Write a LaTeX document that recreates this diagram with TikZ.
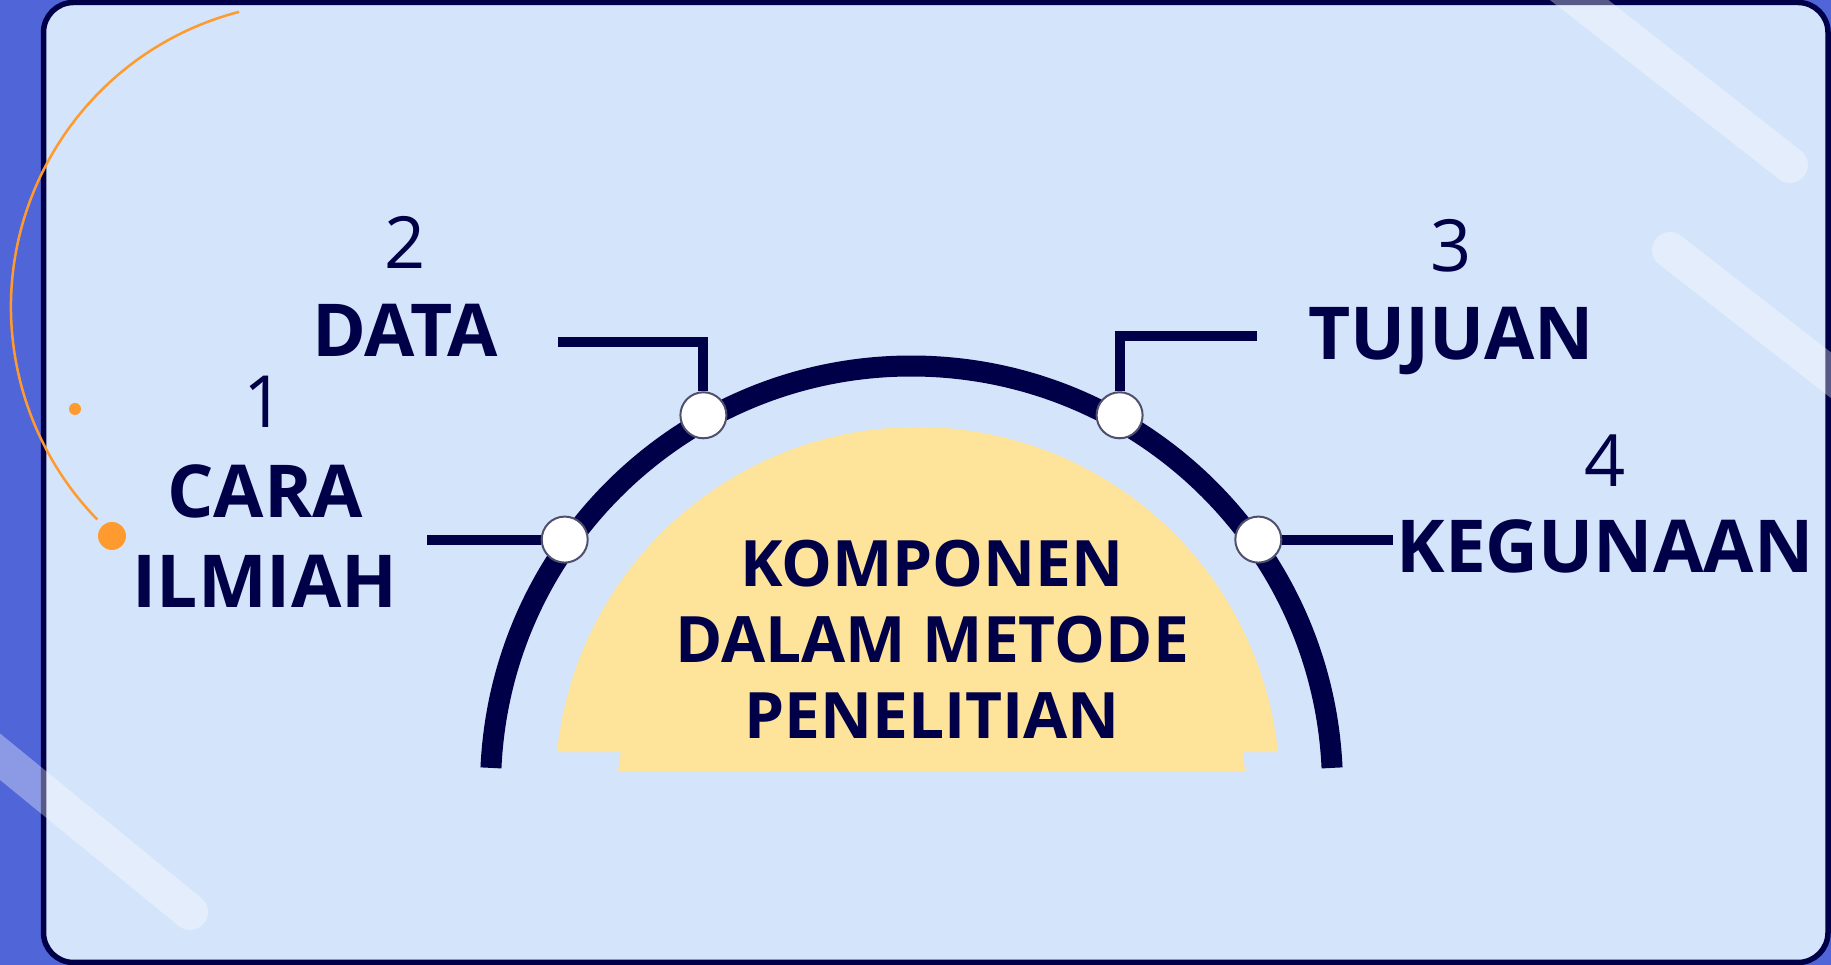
\documentclass[tikz,border=0pt]{standalone}
\usepackage{fontspec}
\setmainfont{Open Sans}
\newfontfamily\boldf{Open Sans}
\pgfdeclarelayer{bg}
\pgfdeclarelayer{fg}
\pgfsetlayers{bg,main,fg}
\definecolor{bgblue}{HTML}{4F65D8}
\definecolor{panel}{HTML}{D4E4FA}
\definecolor{navy}{HTML}{000048}
\definecolor{orng}{HTML}{FF9A2E}
\definecolor{yel}{HTML}{FEE39B}
\definecolor{ring}{HTML}{50506E}
\tikzset{
  dot/.style={circle, fill=white, draw=ring, line width=2pt, minimum size=46pt, inner sep=0pt},
  conn/.style={draw=navy, line width=10pt, line join=miter},
  num/.style={text=navy, font=\fontsize{72}{86}\selectfont, anchor=base, inner sep=0pt},
  lbl/.style={text=navy, font=\boldf\bfseries\fontsize{73}{90}\selectfont, anchor=base, align=center, inner sep=0pt},
  ctr/.style={text=navy, font=\boldf\bfseries\fontsize{64}{76}\selectfont, anchor=base, align=center, inner sep=0pt},
  bar/.style={white, opacity=0.35, line width=36pt, line cap=round},
}
\begin{document}
\begin{tikzpicture}[x=1pt,y=1pt]
\useasboundingbox (0,0) rectangle (1831,965);
\begin{pgfonlayer}{bg}
\fill[bgblue] (0,0) rectangle (1831,965);
\draw[navy, line width=5.5pt, fill=panel, rounded corners=30pt] (43.5,2.5) rectangle (1828,962.5);
\draw[orng, line width=2.5pt] (316,658) ++(104.6:305) arc[start angle=104.6, end angle=224.2, radius=305];
\fill[orng] (112,429) circle[radius=14];
\fill[orng] (75,556) circle[radius=6];
\fill[yel] (917.5,175.6) ++(174.08:362.4) arc[start angle=174.08, end angle=5.92, radius=362.4] -- cycle;
\fill[yel] (621,214) -- (1243,214) -- (1245,194) -- (618,194) -- cycle;
\draw[navy, line width=21pt] (911.5,178) ++(177.4:421) arc[start angle=177.4, end angle=2.6, radius=421];
\end{pgfonlayer}

\node[dot] (n1) at (564.7,425.4) {};
\node[dot] (n2) at (703.4,549.7) {};
\node[dot] (n3) at (1119.6,549.7) {};
\node[dot] (n4) at (1258.3,425.4) {};

\coordinate (e1) at (427,425.4);
\coordinate (e2) at (558,623);
\coordinate (e3) at (1257,629);
\coordinate (e4) at (1393,425.4);

\begin{pgfonlayer}{bg}
\draw[conn] (e1) -- (n1);
\draw[conn] (e2) -| (n2);
\draw[conn] (e3) -| (n3);
\draw[conn] (e4) -- (n4);
\end{pgfonlayer}

\node[num] (d1) at (264,537) {1};
\node[lbl] (l1) at (265,357) {CARA\\ILMIAH};
\node[num] (d2) at (405,696) {2};
\node[lbl] (l2) at (405,608) {DATA};
\node[num] (d3) at (1451,693) {3};
\node[lbl] (l3) at (1451,605) {TUJUAN};
\node[num] (d4) at (1605,478) {4};
\node[lbl] (l4) at (1605,392) {KEGUNAAN};
\node[ctr] (c) at (932,226) {KOMPONEN\\DALAM METODE\\PENELITIAN};

\begin{pgfonlayer}{fg}
\draw[bar] (1528,1005) -- (1790,800);
\draw[bar] (1670,715) -- (1900,536);
\draw[bar] (-40,241) -- (190,53);
\end{pgfonlayer}
\end{tikzpicture}
\end{document}
